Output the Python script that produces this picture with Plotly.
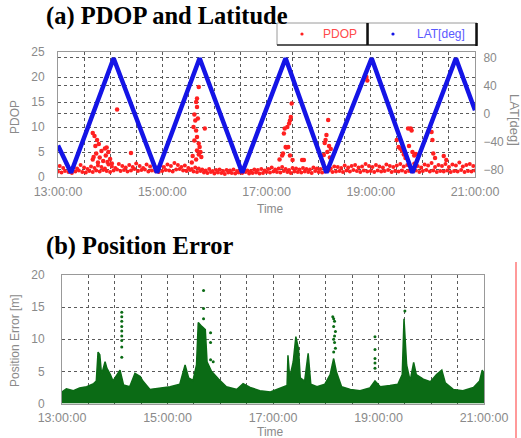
import plotly.graph_objects as go

W, H = 521, 438

# ---------------- data ----------------
tick_labels = ["13:00:00", "15:00:00", "17:00:00", "19:00:00", "21:00:00"]

# latitude turning points (minutes after 13:00, degrees)
lat_t = [0, 15, 64, 114, 163, 212, 262, 309, 361, 408, 458, 480]
lat_v = [-45, -84, 79, -84, 79, -84, 79, -84, 79, -84, 79, 5]

# PDOP baseline rows (every 4 min from 13:00, and offset rows)
pdop_base_lo = [1.1, 0.9, 1.2, 1.0, 0.8, 1.1, 1.3, 1.0, 0.9, 1.2, 1.0,
                1.3, 1.1, 1.4, 1.2, 1.0, 1.3, 1.5, 1.2, 1.4, 1.1,
                1.3, 1.6, 1.2, 1.4, 1.5, 1.1, 1.3, 1.2, 1.0, 1.2,
                1.4, 1.3, 1.1, 1.5, 1.6, 1.3, 1.2, 1.4, 1.1, 1.0,
                1.2, 0.9, 0.8, 1.0, 0.7, 0.9, 0.8, 0.6, 0.9, 0.8,
                0.7, 0.9, 0.8, 1.0, 0.7, 0.8, 0.9, 0.7, 0.8, 1.0,
                0.9, 1.1, 1.0, 0.9, 1.2, 1.0, 0.8, 1.1, 1.0, 0.9,
                1.1, 1.0, 0.8, 1.2, 1.0, 0.9, 1.1, 1.3, 1.0, 1.1,
                1.2, 1.0, 1.3, 1.1, 1.4, 1.2, 1.0, 1.3, 1.1, 1.2,
                1.0, 1.3, 1.1, 1.2, 1.4, 1.0, 1.2, 1.1, 1.3, 1.0,
                1.2, 1.1, 1.3, 1.0, 1.2, 1.4, 1.1, 1.3, 1.0, 1.2,
                1.1, 1.3, 1.0, 1.2, 1.1, 1.4, 1.0, 1.2, 1.1, 1.3]
pdop_base_hi = [2.2, 1.8, 2.6, 1.6, 2.0, 1.7, 2.4, 1.9, 1.6, 2.1,
                1.8, 2.3, 2.0, 1.7, 2.5, 2.1, 1.8, 2.6, 2.2, 1.9,
                2.4, 2.0, 2.7, 2.2, 1.8, 2.5, 2.1, 2.6, 1.9, 2.3,
                2.0, 2.5, 2.2, 2.8, 2.4, 2.0, 2.3, 1.8, 1.6, 1.9,
                1.7, 1.5, 1.3, 1.6, 1.2, 1.4, 1.5, 1.2, 1.4, 1.3,
                1.5, 1.2, 1.4, 1.6, 1.3, 1.2, 1.5, 1.4, 1.6, 1.3,
                1.6, 1.9, 1.5, 1.7, 2.0, 1.6, 1.4, 1.8, 1.7, 1.5,
                1.8, 1.6, 1.5, 1.9, 1.7, 1.6, 2.0, 1.8, 1.7, 2.1,
                2.0, 1.8, 2.3, 1.9, 2.2, 2.4, 1.9, 2.1, 2.6, 2.2,
                2.0, 2.4, 2.1, 1.9, 2.5, 2.2, 2.0, 2.3, 2.6, 2.1,
                2.4, 2.0, 2.7, 2.2, 1.9, 2.5, 2.3, 2.8, 2.0, 2.4,
                2.2, 2.6, 2.0, 2.5, 2.3, 2.9, 2.1, 2.4, 2.6, 2.2]

# PDOP excursions (minutes after 13:00, value)
pdop_ex_t = [40, 42, 45, 43, 47, 44, 41, 40, 48, 50, 52, 46,
             54, 56, 58, 55, 60, 57, 62, 68, 84,
             162, 160, 159, 160, 158, 161, 156, 159, 169, 160, 162, 163, 157, 160,
             155, 162, 159, 154, 164, 157, 165,
             269, 268, 267, 266, 264, 261, 260, 262, 265, 259, 258, 267, 263, 270,
             255, 281, 283,
             311, 309, 307, 312, 308, 314, 310, 306, 313, 305,
             355, 356,
             403, 406, 407, 390, 392, 394, 404, 408, 410, 412, 396, 398, 400,
             431, 430, 432, 434, 444, 447]
pdop_ex_v = [8.8, 8.2, 7.4, 6.2, 6.6, 4.7, 4.0, 3.5, 3.9, 5.2, 3.2, 2.9,
             5.7, 5.9, 5.0, 4.3, 3.6, 3.0, 2.7, 13.5, 4.8,
             18.0, 15.7, 15.0, 14.0, 11.3, 11.7, 10.0, 9.3, 9.7, 8.0, 6.7, 6.0, 7.3, 5.3,
             4.2, 4.5, 3.5, 2.9, 5.0, 12.5, 4.0,
             14.7, 12.0, 11.3, 10.7, 10.0, 9.7, 8.7, 6.0, 6.0, 4.7, 4.3, 4.3, 5.9, 3.4,
             3.5, 3.4, 3.4,
             11.4, 8.4, 6.8, 6.2, 7.4, 5.6, 5.0, 4.4, 3.9, 2.9,
             20.0, 19.3,
             9.7, 9.7, 9.3, 7.4, 6.0, 5.7, 6.2, 5.0, 4.3, 4.6, 5.3, 4.5, 3.8,
             7.4, 9.0, 4.7, 3.8, 4.2, 3.4]

# position error upper envelope (minutes after 13:00, metres)
err_t = [0, 5, 13, 20, 28, 36, 39, 41, 43, 45, 49, 51, 55, 58, 66, 70, 77, 83, 89, 92,
         100, 111, 123, 134, 140, 144, 149, 153, 155, 159, 163, 165, 170, 178, 187, 199,
         206, 214, 225, 237, 248, 256, 257, 259, 263, 266, 269, 271, 276, 280, 283, 290,
         299, 305, 309, 312, 318, 328, 339, 350, 356, 362, 373, 382, 387, 389, 392, 396,
         400, 403, 411, 419, 426, 432, 436, 445, 456, 468, 475, 478, 480]
err_top = [1.8, 2.3, 2.0, 2.4, 2.6, 3.1, 3.5, 8.0, 7.6, 4.5, 6.5, 5.5, 4.5, 3.5, 5.2, 2.9, 2.6, 4.7, 4.2, 3.5,
           2.2, 2.4, 2.6, 3.0, 6.0, 4.0, 3.6, 6.0, 12.6, 12.0, 11.5, 6.5, 5.0, 3.8, 2.6, 2.2,
           3.1, 2.5, 2.0, 1.8, 2.4, 2.8, 7.5, 4.0, 6.5, 10.4, 8.5, 4.0, 3.5, 7.8, 3.0, 2.6,
           3.0, 4.5, 7.0, 5.0, 2.6, 2.2, 2.0, 2.4, 3.5, 2.6, 2.8, 3.0, 4.5, 13.2, 6.0, 3.5,
           6.4, 4.5, 3.8, 3.4, 4.5, 5.2, 3.2, 2.2, 2.0, 2.5, 3.5, 5.2, 4.5]

# position error isolated samples
err_pt_t = [68, 68, 68, 68, 68, 68, 68, 68, 68,
            161, 161, 161, 169, 169, 169, 172,
            308, 309, 310, 309, 311, 310, 309, 310, 311, 309,
            356, 356, 356, 356, 356, 390]
err_pt_v = [14.2, 13.5, 12.8, 12.0, 11.3, 10.5, 9.8, 8.8, 7.2,
            17.6, 14.8, 13.2, 11.0, 9.5, 6.8, 6.5,
            13.5, 13.2, 12.8, 12.0, 11.2, 10.5, 10.0, 9.5, 8.6, 8.0,
            10.4, 8.4, 7.0, 6.3, 5.5, 14.4]

# ---------------- figure ----------------
RED = "#ff2020"
BLUE = "#1414e6"
GREEN = "#0b6b15"
GRID = "#5a5a5a"
TICKC = "#8a8a8a"

def px(x):
    return x / W

def py(y):
    return 1 - y / H

fig = go.Figure()

t_lo = [4 * i for i in range(len(pdop_base_lo))]
t_hi = [2 + 4 * i for i in range(len(pdop_base_hi))]

fig.add_trace(go.Scatter(x=t_lo, y=pdop_base_lo, mode="markers",
                         marker=dict(color=RED, size=4), xaxis="x", yaxis="y"))
fig.add_trace(go.Scatter(x=t_hi, y=pdop_base_hi, mode="markers",
                         marker=dict(color=RED, size=4), xaxis="x", yaxis="y"))
fig.add_trace(go.Scatter(x=pdop_ex_t, y=pdop_ex_v, mode="markers",
                         marker=dict(color=RED, size=4.5), xaxis="x", yaxis="y"))
fig.add_trace(go.Scatter(x=lat_t, y=lat_v, mode="lines",
                         line=dict(color=BLUE, width=4.5), xaxis="x", yaxis="y2"))

fig.add_trace(go.Scatter(x=err_t, y=err_top, mode="lines", fill="tozeroy",
                         fillcolor=GREEN, line=dict(color=GREEN, width=1.5),
                         xaxis="x2", yaxis="y3"))
fig.add_trace(go.Scatter(x=err_pt_t, y=err_pt_v, mode="markers",
                         marker=dict(color=GREEN, size=3), xaxis="x2", yaxis="y3"))

tickvals = list(range(0, 481, 30))
ticktext = [tick_labels[v // 120] if v % 120 == 0 else "" for v in tickvals]

font_xticks = dict(family="Liberation Sans", size=12.5, color=TICKC)
font_yticks = dict(family="Liberation Sans", size=12, color=TICKC)
common_x = dict(range=[0, 480], tickmode="array", tickvals=tickvals, ticktext=ticktext,
                showgrid=True, gridcolor=GRID, griddash="3px,3px", gridwidth=1,
                showline=True, linecolor="#999999", linewidth=1, mirror=True,
                ticks="", tickfont=font_xticks, zeroline=False, automargin=False)
common_y = dict(showgrid=True, gridcolor=GRID, griddash="3px,3px", gridwidth=1,
                showline=True, linecolor="#999999", linewidth=1, mirror=True,
                ticks="", tickfont=font_yticks, zeroline=False, automargin=False)

fig.update_layout(
    width=W, height=H, margin=dict(l=0, r=0, t=0, b=0, pad=0, autoexpand=False),
    paper_bgcolor="white", plot_bgcolor="white", showlegend=False,
    xaxis=dict(domain=[px(58), px(475)], anchor="y", ticklabelstandoff=3, **common_x),
    yaxis=dict(domain=[py(177), py(52)], range=[0, 25], dtick=5, anchor="x",
               ticklabelstandoff=10, **common_y),
    yaxis2=dict(overlaying="y", side="right", anchor="x", range=[-90, 88],
                tickmode="array", tickvals=[-80, -40, 0, 40, 80],
                ticklabelstandoff=5, **common_y),
    xaxis2=dict(domain=[px(62), px(484)], anchor="y3", ticklabelstandoff=2, **common_x),
    yaxis3=dict(domain=[py(403.5), py(275)], range=[0, 20], dtick=5, anchor="x2",
                ticklabelstandoff=14, **common_y),
)

ann = []
def add_text(text, x, y, size, color, angle=0, xanchor="center", family="Liberation Sans"):
    ann.append(dict(text=text, x=px(x), y=py(y), xref="paper", yref="paper",
                    showarrow=False, xanchor=xanchor, yanchor="middle",
                    textangle=angle, font=dict(family=family, size=size, color=color)))

add_text("<b>(a) PDOP and Latitude</b>", 44, 16, 24.5, "black", xanchor="left", family="Liberation Serif")
add_text("<b>(b) Position Error</b>", 44, 246, 24.5, "black", xanchor="left", family="Liberation Serif")
add_text("Time", 270, 209, 12, TICKC)
add_text("Time", 270, 432, 12, TICKC)
add_text("PDOP", 15, 117, 12, TICKC, angle=-90)
add_text("LAT[deg]", 515, 120, 13, TICKC, angle=90)
add_text("Position Error [m]", 15, 341, 12, TICKC, angle=-90)
add_text("PDOP", 340, 34, 12, "#ff4a4a")
add_text("LAT[deg]", 441, 34, 12, "#5a5aff")
fig.update_layout(annotations=ann)

shapes = []
def rect(x0, y0, x1, y1, color, width):
    shapes.append(dict(type="rect", xref="paper", yref="paper",
                       x0=px(x0), x1=px(x1), y0=py(y1), y1=py(y0),
                       line=dict(color=color, width=width), fillcolor="white"))
def line(x0, y0, x1, y1, color, width):
    shapes.append(dict(type="line", xref="paper", yref="paper",
                       x0=px(x0), x1=px(x1), y0=py(y0), y1=py(y1),
                       line=dict(color=color, width=width)))
def dot(x, y, r, color):
    shapes.append(dict(type="circle", xref="paper", yref="paper",
                       x0=px(x - r), x1=px(x + r), y0=py(y + r), y1=py(y - r),
                       line=dict(width=0), fillcolor=color))

rect(277, 23, 368, 45, "#9a9a9a", 1)
rect(368, 23, 477, 45, "#9a9a9a", 1)
line(277, 45, 477, 45, "#333333", 1.5)
line(367.5, 23, 367.5, 45, "#111111", 2.5)
line(476.5, 23, 476.5, 46, "#111111", 2.5)
dot(302, 34, 1.6, RED)
dot(393, 34, 1.6, BLUE)
line(516, 262, 516, 438, "#ff9a9a", 2)
fig.update_layout(shapes=shapes)

fig.write_html("out.html")
